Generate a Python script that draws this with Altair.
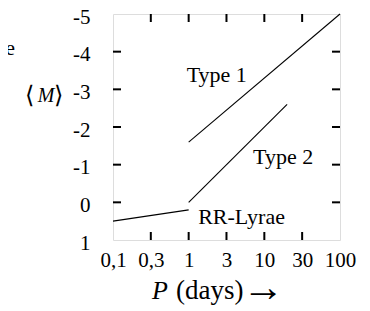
import altair as alt
import pandas as pd

# ---- data ----
type1_P = [1, 100]
type1_M = [-1.6, -5.0]
type2_P = [1, 20]
type2_M = [0.0, -2.6]
rr_P = [0.1, 1]
rr_M = [0.5, 0.2]

label_text = ["Type 1", "Type 2", "RR-Lyrae"]
label_P = [2.35, 17.7, 5.0]
label_M = [-3.38, -1.2, 0.39]

x_ticks = [0.1, 0.316, 1, 3.16, 10, 31.6, 100]
x_tick_labels = ["0,1", "0,3", "1", "3", "10", "30", "100"]
y_ticks = [-5, -4, -3, -2, -1, 0, 1]

W, H = 227, 226
FONT = "Liberation Serif"
TL = 8  # inner tick length

lines = pd.DataFrame(
    {
        "P": type1_P + type2_P + rr_P,
        "M": type1_M + type2_M + rr_M,
        "s": ["Type 1"] * len(type1_P) + ["Type 2"] * len(type2_P) + ["RR-Lyrae"] * len(rr_P),
    }
)
labels = pd.DataFrame({"P": label_P, "M": label_M, "t": label_text})
xt = pd.DataFrame({"P": x_ticks[1:-1]})
yt = pd.DataFrame({"M": y_ticks[1:-1]})

# label expression for the x axis
expr = "''"
for v, lab in reversed(list(zip(x_ticks, x_tick_labels))):
    expr = f"abs(log(datum.value) - log({v})) < 0.01 ? '{lab}' : ({expr})"

xs = alt.Scale(type="log", domain=[0.1, 100], nice=False)
ys = alt.Scale(domain=[-5, 1], reverse=True, nice=False, zero=False)
xaxis = alt.Axis(values=x_ticks, labelExpr=expr, title=None, grid=False, ticks=False,
                 domain=False, labelFont=FONT, labelFontSize=21, labelColor="black",
                 labelPadding=9, labelFlush=False, labelOverlap=False)
yaxis = alt.Axis(values=y_ticks, labelExpr="'' + datum.value", title=None, grid=False,
                 ticks=False, domain=False, labelFont=FONT, labelFontSize=21,
                 labelColor="black", labelPadding=23, labelOffset=3,
                 labelFlush=False, labelOverlap=False)

X = alt.X("P:Q", scale=xs, axis=xaxis)
Y = alt.Y("M:Q", scale=ys, axis=yaxis)

line_layer = alt.Chart(lines).mark_line(color="black", strokeWidth=1.1).encode(x=X, y=Y, detail="s:N")
text_layer = alt.Chart(labels).mark_text(font=FONT, fontSize=22, color="black").encode(x=X, y=Y, text="t:N")

left_ticks = alt.Chart(yt).mark_rule(color="black", strokeWidth=2).encode(
    y=alt.Y("M:Q", scale=ys, axis=yaxis), x=alt.value(0), x2=alt.value(TL))
right_ticks = alt.Chart(yt).mark_rule(color="black", strokeWidth=2).encode(
    y=alt.Y("M:Q", scale=ys, axis=yaxis), x=alt.value(W - TL), x2=alt.value(W))
bottom_ticks = alt.Chart(xt).mark_rule(color="black", strokeWidth=2).encode(
    x=alt.X("P:Q", scale=xs, axis=xaxis), y=alt.value(H - TL), y2=alt.value(H))
top_ticks = alt.Chart(xt).mark_rule(color="black", strokeWidth=2).encode(
    x=alt.X("P:Q", scale=xs, axis=xaxis), y=alt.value(0), y2=alt.value(TL))

one = pd.DataFrame({"a": [0]})


def txt(text, x, y, size, align="left", baseline="middle", style="normal", font=FONT):
    return alt.Chart(one).mark_text(
        text=text, font=font, fontSize=size, fontStyle=style, align=align,
        baseline=baseline, color="black",
    ).encode(x=alt.value(x), y=alt.value(y))


ytitle_l = txt("⟨", -88, 82, 24, align="left")
ytitle_m = txt("M", -67, 82, 20, align="center", style="italic")
ytitle_r = txt("⟩", -50, 82, 24, align="right")
xtitle_p = txt("P", 39, 285, 26, baseline="alphabetic", style="italic")
xtitle_d = txt("(days)", 63, 285, 27, baseline="alphabetic")
xtitle_a = txt("→", 129, 274, 42, baseline="middle")
clipped_e = txt("e", -98, 34, 22, align="right")

chart = alt.layer(
    line_layer, text_layer, left_ticks, right_ticks, bottom_ticks, top_ticks,
    ytitle_l, ytitle_m, ytitle_r, xtitle_p, xtitle_d, xtitle_a, clipped_e,
).properties(
    width=W, height=H,
    autosize=alt.AutoSizeParams(type="none"),
    padding={"left": 105, "top": 6, "right": 22, "bottom": 69},
).configure_view(stroke="black", strokeWidth=2).configure(background="white")

chart.save("out.html", embed_options={"renderer": "svg", "actions": False})
